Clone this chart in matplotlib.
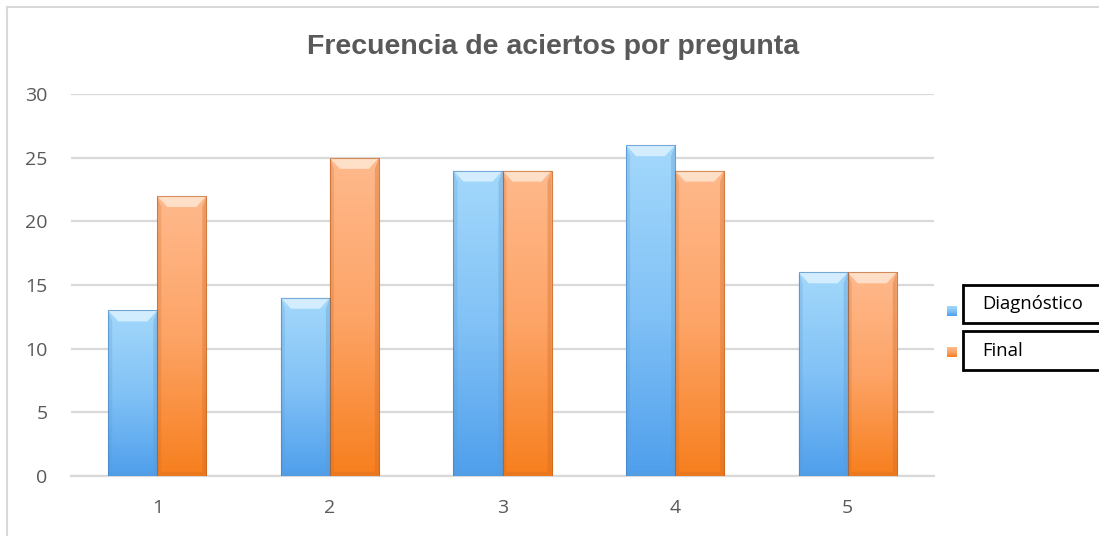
import numpy as np
import matplotlib
matplotlib.use("Agg")
import matplotlib.pyplot as plt
from matplotlib.colors import LinearSegmentedColormap
from matplotlib.patches import Rectangle, Polygon

# Data
preguntas = ["1", "2", "3", "4", "5"]
diagnostico = [13, 14, 24, 26, 16]
final = [22, 25, 24, 24, 16]
series_names = ["Diagnóstico", "Final"]

W, H = 1099, 536
fig = plt.figure(figsize=(W / 100, H / 100), dpi=100)
ax = fig.add_axes([71 / W, 60.3 / H, 863 / W, 381.4 / H])

gray = "#595959"
grid_c = "#d9d9d9"

# top -> bottom gradients for each series
blue_cmap = LinearSegmentedColormap.from_list("b", ["#a3d8fb", "#82c2f6", "#4f9fec"])
orange_cmap = LinearSegmentedColormap.from_list("o", ["#ffb98c", "#fda467", "#f77f1e"])
edge_colors = ["#3f7fbf", "#b85a1a"]
bevel_colors = [("#dcf2ff", "#5b9ad2"), ("#ffe6d2", "#cf6a22")]

x = np.arange(len(preguntas))
width = 0.284
ax.set_xlim(-0.5, len(preguntas) - 0.5)
ax.set_ylim(0, 30)

# pixel -> data conversion for the bevel sizes
dx = 1 / 172.6
dy = 30 / 381.4


def gradient_bar(rect, cmap, edge, bevel):
    x0, y0 = rect.get_x(), rect.get_y()
    w, h = rect.get_width(), rect.get_height()
    grad = np.linspace(0, 1, 256).reshape(-1, 1)
    im = ax.imshow(grad, cmap=cmap, aspect="auto", extent=[x0, x0 + w, y0, y0 + h],
                   origin="upper", zorder=3, interpolation="bilinear")
    im.set_clip_path(rect)
    # bevelled top face
    bx, by = 10 * dx, 11 * dy
    top = Polygon([(x0, h), (x0 + w, h), (x0 + w - bx, h - by), (x0 + bx, h - by)],
                  closed=True, facecolor=bevel[0], edgecolor="none", alpha=0.85, zorder=4)
    ax.add_patch(top)
    # darker side and bottom rims
    ax.add_patch(Polygon([(x0 + w, h), (x0 + w, 0), (x0 + w - 4 * dx, 4 * dy),
                          (x0 + w - 4 * dx, h - by)], closed=True,
                         facecolor=bevel[1], edgecolor="none", alpha=0.35, zorder=4))
    ax.add_patch(Polygon([(x0, h), (x0, 0), (x0 + 4 * dx, 4 * dy), (x0 + 4 * dx, h - by)],
                         closed=True, facecolor=bevel[1], edgecolor="none", alpha=0.25, zorder=4))
    ax.add_patch(Polygon([(x0, 0), (x0 + w, 0), (x0 + w - 4 * dx, 4 * dy), (x0 + 4 * dx, 4 * dy)],
                         closed=True, facecolor=bevel[1], edgecolor="none", alpha=0.3, zorder=4))
    ax.add_patch(Rectangle((x0, y0), w, h, facecolor="none", edgecolor=edge,
                           linewidth=0.8, alpha=0.6, zorder=5))


bars_d = ax.bar(x - width / 2, diagnostico, width, color="none", edgecolor="none", zorder=3)
bars_f = ax.bar(x + width / 2, final, width, color="none", edgecolor="none", zorder=3)
for r in bars_d:
    gradient_bar(r, blue_cmap, edge_colors[0], bevel_colors[0])
for r in bars_f:
    gradient_bar(r, orange_cmap, edge_colors[1], bevel_colors[1])

# axes styling
ax.set_yticks(range(0, 31, 5))
ax.yaxis.grid(True, color=grid_c, linewidth=1.6)
ax.set_axisbelow(True)
for s in ["top", "right", "left"]:
    ax.spines[s].set_visible(False)
ax.spines["bottom"].set_color(grid_c)
ax.spines["bottom"].set_linewidth(1.6)
ax.spines["bottom"].set_zorder(2)
ax.set_xticks(x)
ax.set_xticklabels(preguntas)
ax.tick_params(axis="both", length=0, labelsize=14, labelcolor=gray)
ax.tick_params(axis="y", pad=17)
ax.tick_params(axis="x", pad=17)
for lbl in ax.get_xticklabels() + ax.get_yticklabels():
    lbl.set_family("Open Sans")

fig.text(553 / W, 1 - 47 / H, "Frecuencia de aciertos por pregunta", ha="center", va="center",
         fontsize=20.5, fontweight="bold", color=gray, family="Liberation Sans")

# chart area border (left and top edges)
fig.add_artist(plt.Line2D([6.5 / W, 6.5 / W], [0, 1 - 7 / H], color=grid_c, linewidth=1.5))
fig.add_artist(plt.Line2D([6.5 / W, 1], [1 - 7 / H, 1 - 7 / H], color=grid_c, linewidth=1.5))

# legend: small gradient squares with boxed labels
legend_rows = [(285, 323, 311), (331, 370, 352)]
for (top, bot, mid), name, cmap in zip(legend_rows, series_names, [blue_cmap, orange_cmap]):
    fig.add_artist(Rectangle((963 / W, 1 - bot / H), (1110 - 963) / W, (bot - top) / H,
                             transform=fig.transFigure, facecolor="white", edgecolor="black",
                             linewidth=2))
    lax = fig.add_axes([947 / W, 1 - (mid + 5) / H, 10 / W, 10 / H])
    lax.imshow(np.linspace(0, 1, 32).reshape(-1, 1), cmap=cmap, aspect="auto")
    lax.axis("off")
    fig.text(982 / W, 1 - (top + bot) / 2 / H, name, ha="left", va="center",
             fontsize=13.3, color="black", family="Open Sans")

fig.savefig("out.png", dpi=100)
